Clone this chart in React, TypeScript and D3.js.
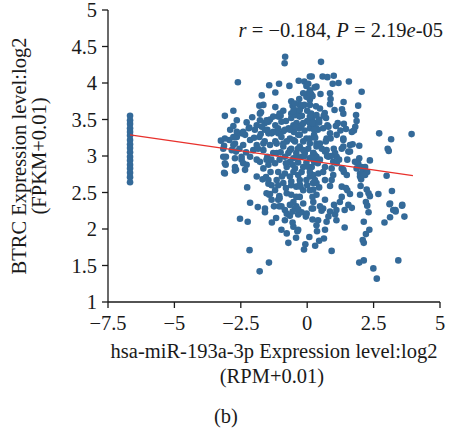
import React from 'react';
import * as d3 from 'd3';

// hsa-miR-193a-3p (x) vs BTRC (y), log2 values
const leftColumnX = -6.67;
const leftColumnY = [3.55, 3.49, 3.44, 3.38, 3.33, 3.28, 3.22, 3.16, 3.11, 3.05, 2.99, 2.94, 2.88,
  2.83, 2.77, 2.71, 2.64];

const cloudPoints: [number, number][] = [
  [-0.83, 4.36], [-0.85, 4.27], [-2.61, 4.01], [-1.43, 3.97], [-1.06, 3.99], [-1.2, 3.87], [-0.67, 3.96],
  [-1.71, 3.83], [-0.32, 4.03], [0.1, 4.09], [-0.11, 4.02], [-0.03, 3.96], [0.06, 3.86], [-1.8, 3.69],
  [-2.78, 3.62], [-3.1, 3.55], [-2.65, 3.49], [-2.07, 3.53], [-1.74, 3.6], [-0.55, 3.69], [-0.34, 3.6],
  [-2.28, 3.46], [0.1, 3.7], [0.35, 3.95], [0.52, 4.29],
  [0.58, 4.09], [0.76, 4.08], [1.0, 4.1], [0.96, 3.99], [1.18, 4.0], [1.57, 4.02], [2.05, 3.88], [0.17, 4.09],
  [0.28, 3.94], [0.15, 3.85], [0.5, 3.85], [0.86, 3.86], [0.88, 3.78], [0.86, 3.71], [1.37, 3.74], [1.92, 3.69],
  [0.33, 3.68], [1.03, 3.63], [1.31, 3.64], [1.36, 3.58], [1.84, 3.56], [0.66, 3.59], [0.71, 3.52], [0.45, 3.46],
  [0.76, 3.42], [1.08, 3.41], [1.38, 3.44], [1.46, 3.37], [1.81, 3.4], [1.76, 3.35], [2.71, 3.31], [3.93, 3.3],
  [0.22, 3.39], [0.4, 3.36],
  [3.16, 3.23], [3.03, 3.1], [3.07, 3.07], [2.36, 2.94], [2.99, 2.73],
  [-3.25, 3.21], [-2.93, 3.22], [-2.65, 3.26], [-3.16, 3.1], [-2.84, 3.08], [-2.72, 3.17], [-2.41, 3.15],
  [-3.06, 2.99], [-3.07, 2.88], [-2.72, 2.97], [-2.72, 2.85], [-2.47, 2.95], [-2.28, 2.88], [-1.9, 2.95],
  [-2.03, 3.08], [-2.34, 3.29], [-1.97, 3.36], [-1.78, 3.58], [-1.65, 3.7],
  [-2.26, 2.57], [-2.15, 2.36], [-1.86, 2.3], [-1.59, 2.23], [-1.25, 2.31], [-2.53, 2.14], [-2.24, 2.1],
  [-1.17, 2.15], [-1.33, 2.09], [-2.17, 1.71], [-1.44, 1.54], [-1.79, 1.42], [-1.68, 2.68], [-1.46, 2.62],
  [-1.4, 2.48], [-1.09, 2.4], [-3.1, 2.76], [-2.72, 2.8],
  [-0.71, 1.81], [-0.42, 1.88], [-0.12, 1.72], [-0.07, 1.79], [0.08, 1.89], [0.3, 1.77], [0.45, 1.84],
  [0.63, 1.87], [0.92, 1.7], [1.41, 2.02], [1.96, 1.54], [2.13, 1.57], [2.49, 1.46], [2.62, 1.32], [3.43, 1.57],
  [2.13, 2.1], [2.21, 1.93], [2.34, 1.99], [2.13, 1.81], [2.09, 1.85], [2.91, 2.09], [3.12, 2.16], [3.66, 2.17],
  [3.32, 2.26], [3.57, 2.32], [2.31, 2.23], [2.26, 2.32], [1.68, 2.29], [1.41, 2.26], [1.1, 2.12], [0.73, 2.1],
  [0.41, 2.12], [0.37, 1.97], [0.67, 1.99], [0.35, 2.05], [-0.52, 2.03], [-0.37, 1.97], [-0.55, 2.09],
  [-0.84, 2.12], [-0.65, 2.18], [-0.34, 2.2], [-0.05, 2.17], [-0.21, 2.23], [-0.84, 2.26], [-0.41, 2.31],
  [0.22, 2.28], [0.6, 2.28], [0.86, 2.24], [1.05, 2.2], [0.8, 2.17], [-0.97, 2.31],
  [3.19, 2.52], [3.58, 2.33], [2.68, 2.48], [3.1, 2.34], [3.33, 2.24], [2.31, 2.49], [2.01, 2.59], [1.99, 2.47],
  [2.03, 2.68], [1.99, 2.76], [1.3, 2.58], [1.51, 2.53], [1.61, 2.48], [1.3, 2.44], [1.23, 2.37], [1.1, 2.26],
  [1.01, 2.33], [0.54, 2.25], [-1.05, 2.45], [-0.6, 2.47], [-0.52, 2.37], [-0.46, 2.28], [-0.77, 2.21],
  [-0.15, 2.35], [-0.02, 2.21], [0.2, 2.13], [-0.28, 2.44], [-0.15, 2.53], [-0.41, 2.58], [-0.8, 2.56],
  [-1.09, 2.6], [-1.34, 2.6], [-1.55, 2.71], [0.35, 2.47], [0.45, 2.57], [0.86, 2.59], [0.92, 2.67], [0.67, 2.4],
  [0.22, 2.63], [0.1, 2.72], [-0.28, 2.67], [2.24, 2.54], [2.36, 2.45],
  [3.12, 2.35], [3.24, 2.26], [1.92, 2.9], [2.05, 2.85], [1.86, 2.83], [2.09, 2.78], [1.99, 2.72], [2.18, 2.74],
  [1.8, 2.92], [1.96, 2.97], [1.51, 2.95], [1.36, 3.13], [1.71, 3.16], [1.96, 3.14], [1.55, 3.06], [1.3, 2.83],
  [1.38, 2.78], [0.92, 2.83], [0.98, 2.92], [1.11, 2.99], [0.8, 2.99], [1.46, 2.56], [2.21, 2.37], [0.23, 2.54],
  [0.48, 2.31], [0.17, 2.28], [1.55, 2.33], [0.88, 3.24], [1.36, 3.24], [1.68, 3.33], [0.35, 3.17],
  [-3.1, 3.24], [-2.78, 3.26], [-2.47, 3.31], [-3.13, 3.14], [-2.78, 3.15], [-2.68, 3.06], [-3.16, 2.99],
  [-3.1, 2.9], [-3.13, 2.77], [-2.68, 2.81], [-2.47, 2.99], [-2.41, 2.9], [-2.34, 2.81], [-2.15, 2.99],
  [-1.9, 3.15], [-2.15, 3.22], [-1.8, 3.26], [-1.65, 3.17], [-1.5, 2.99], [-1.78, 2.92], [-1.65, 2.83],
  [-1.46, 2.88], [-1.38, 2.78], [-1.46, 2.67], [-1.59, 2.28], [-1.43, 2.47], [-1.34, 2.4], [-1.04, 2.42],
  [-1.06, 2.31], [-1.21, 2.53], [-0.9, 2.63], [-1.15, 2.67], [-1.09, 2.78], [-1.21, 2.9], [-1.28, 3.04],
  [-1.15, 3.17], [-1.34, 3.31], [-0.65, 2.33], [-0.55, 2.24], [-0.34, 2.27], [0.23, 2.37], [-0.77, 2.49],
  [-0.41, 2.44], [0.1, 2.53], [0.35, 2.63], [-0.6, 2.6], [-0.28, 2.61], [-0.65, 2.72], [-0.34, 2.74],
  [-0.03, 2.67], [0.23, 2.74], [-0.77, 2.85], [-0.46, 2.83], [-0.15, 2.85], [0.17, 2.85], [-0.84, 2.99],
  [-0.52, 2.97], [-0.21, 2.99], [0.1, 2.97], [0.35, 2.99], [-0.9, 3.13], [-0.6, 3.1], [-0.28, 3.13], [0.04, 3.1],
  [0.35, 3.13], [-0.97, 3.26], [-0.65, 3.24], [-0.34, 3.29], [-0.03, 3.24], [0.26, 3.29], [0.1, 3.17],
  [-0.46, 3.2], [-0.77, 3.2], [-0.15, 3.2], [-0.71, 3.04], [-0.41, 3.04], [-0.09, 3.04], [0.23, 3.04],
  [-0.65, 2.92], [-0.34, 2.91], [-0.03, 2.91], [0.26, 2.92], [-0.52, 2.78], [-0.21, 2.78], [0.1, 2.78],
  [-0.84, 2.76],
  [-1.6, 3.45], [-1.4, 3.5], [-1.2, 3.42], [-1.0, 3.55], [-0.8, 3.48], [-0.6, 3.52], [-0.4, 3.45], [-0.2, 3.55],
  [0.0, 3.48], [0.2, 3.52], [-1.5, 3.36], [-1.1, 3.38], [-0.9, 3.34], [-0.7, 3.38], [-0.5, 3.33], [-0.3, 3.38],
  [-0.1, 3.35], [0.1, 3.38], [0.3, 3.45], [-0.9, 3.62], [-0.5, 3.64], [-0.2, 3.68], [0.0, 3.62], [-1.2, 3.67],
  [-0.6, 3.75], [-0.3, 3.78], [0.15, 3.58], [-1.9, 3.42], [-1.75, 3.3], [-2.2, 3.38],
  [-0.6, 3.58], [-0.44, 3.56], [-0.29, 3.54], [0.1, 3.77], [0.2, 3.82], [-1.09, 3.54], [-0.97, 3.47],
  [-1.46, 3.47], [-1.78, 3.49], [-2.18, 3.39], [-2.41, 3.33], [-2.65, 3.33], [-2.9, 3.36], [-2.78, 3.41],
  [-1.59, 3.36], [-1.28, 3.33], [-0.84, 3.36], [-0.52, 3.42], [-0.21, 3.42], [0.1, 3.45], [0.35, 3.38],
  [-0.11, 3.7], [-0.29, 3.7], [-0.46, 3.72], [-0.03, 3.81], [0.1, 3.9],
  [0.04, 3.99], [-0.15, 3.86], [0.1, 3.86], [1.86, 3.48], [1.11, 3.29], [1.36, 3.22], [1.61, 3.15], [1.61, 3.06],
  [2.18, 2.85], [2.26, 2.78], [2.11, 2.74], [1.3, 3.1], [1.05, 3.04], [0.73, 3.08], [0.48, 3.17], [0.73, 3.24],
  [0.86, 3.31], [0.6, 3.38], [0.26, 3.36], [0.2, 3.45], [0.1, 3.54], [0.35, 3.56], [0.48, 3.65], [-0.28, 3.63],
  [-0.52, 3.61], [-1.04, 3.58], [-1.28, 3.54], [-1.53, 3.49], [-1.71, 3.4], [-1.46, 3.31], [-1.09, 3.31],
  [-0.65, 3.36], [-0.28, 3.29], [0.1, 3.24], [-0.52, 3.22], [-0.9, 3.17], [-1.4, 3.15], [-1.65, 3.08],
  [-1.15, 3.04], [-0.65, 3.08], [-0.15, 3.08], [0.23, 3.04], [-0.41, 2.99], [-1.04, 2.95], [-1.53, 2.95],
  [0.48, 2.95], [0.67, 2.85], [1.11, 2.9], [1.36, 2.81], [1.49, 2.74], [0.98, 2.74], [0.42, 2.76],
  [0.29, 3.01], [0.67, 3.06], [0.6, 2.78], [0.29, 2.67], [0.67, 2.67], [0.2, 2.44],
  [-1.9, 2.72], [-1.53, 2.49], [-0.97, 1.99], [-0.77, 1.94], [-0.34, 1.99],
  [-1.0, 3.05], [-0.8, 2.9], [-0.55, 2.88], [-0.35, 3.1], [-0.1, 3.0], [0.05, 2.85], [0.4, 2.9], [0.55, 3.1],
  [0.7, 3.2], [0.8, 3.4], [0.9, 3.0], [-1.2, 3.2], [-1.35, 2.95], [-0.95, 2.72], [-0.6, 2.65], [-0.25, 2.58],
  [0.0, 2.6], [0.15, 2.98], [0.3, 3.25], [-0.45, 3.4], [-0.15, 3.45], [0.45, 3.5], [0.62, 3.55], [0.75, 3.0],
  [1.0, 3.1], [1.2, 2.95], [1.15, 3.45], [1.25, 3.35], [-1.6, 3.2], [-1.85, 3.1], [-2.0, 3.25], [-2.3, 3.05],
  [-2.55, 3.1],
];

// regression line end points
const fitX = [-6.67, 3.98];
const fitY = [3.29, 2.73];

const xTicks = [-7.5, -5, -2.5, 0, 2.5, 5];
const xTickLabels = ['\u22127.5', '\u22125', '\u22122.5', '0', '2.5', '5'];
const yTicks = [1, 1.5, 2, 2.5, 3, 3.5, 4, 4.5, 5];
const yTickLabels = ['1', '1.5', '2', '2.5', '3', '3.5', '4', '4.5', '5'];

const W = 449;
const H = 431;
const FONT = '"Liberation Serif", "Times New Roman", serif';
const FS = 20.5;
const DOT = '#346a99';

export default function App() {
  const x = d3.scaleLinear().domain([-7.5, 5]).range([108, 440]);
  const y = d3.scaleLinear().domain([1, 5]).range([302, 10]);

  const points: [number, number][] = [
    ...leftColumnY.map((v) => [leftColumnX, v] as [number, number]),
    ...cloudPoints,
  ];

  const fitLine = d3.line<number>()
    .x((d) => x(fitX[d]))
    .y((d) => y(fitY[d]));

  return (
    <svg width={W} height={H} style={{ position: 'absolute', left: 0, top: 0, background: '#fff' }}
      fontFamily={FONT}>
      <rect width={W} height={H} fill="#fff" />

      {/* points */}
      <g fill={DOT}>
        {points.map((p, i) => (
          <circle key={i} cx={x(p[0])} cy={y(p[1])} r={3.3} />
        ))}
      </g>

      <path d={fitLine([0, 1]) || ''} stroke="#e8312c" strokeWidth={1.3} fill="none" />

      {/* axes */}
      <g stroke="#1a1a1a" strokeWidth={1.3}>
        <line x1={108} x2={108} y1={y(1)} y2={y(5)} />
        {yTicks.map((t) => (
          <line key={t} x1={102} x2={108} y1={y(t)} y2={y(t)} />
        ))}
        <line x1={x(-7.5)} x2={x(5)} y1={302} y2={302} />
        {xTicks.map((t) => (
          <line key={t} x1={x(t)} x2={x(t)} y1={302} y2={308} />
        ))}
      </g>
      <g fontSize={FS} fill="#1a1a1a">
        {yTicks.map((t, i) => (
          <text key={t} x={97} y={y(t)} dy="0.35em" textAnchor="end">{yTickLabels[i]}</text>
        ))}
        {xTicks.map((t, i) => (
          <text key={t} x={x(t)} y={330} textAnchor="middle">{xTickLabels[i]}</text>
        ))}
      </g>

      {/* axis titles */}
      <g fontSize={FS} fill="#1a1a1a" textAnchor="middle">
        <text x={274} y={358}>hsa-miR-193a-3p Expression level:log2</text>
        <text x={272} y={383}>(RPM+0.01)</text>
        <text transform="rotate(-90)" x={-156} y={26}>BTRC Expression level:log2</text>
        <text transform="rotate(-90)" x={-156} y={46}>(FPKM+0.01)</text>
        <text x={226} y={423}>(b)</text>
      </g>

      <text x={443} y={37} fontSize={FS} textAnchor="end" fill="#1a1a1a">
        <tspan fontStyle="italic">r</tspan> = {'\u2212'}0.184, <tspan fontStyle="italic">P</tspan> = 2.19<tspan fontStyle="italic">e</tspan>-05
      </text>
    </svg>
  );
}
